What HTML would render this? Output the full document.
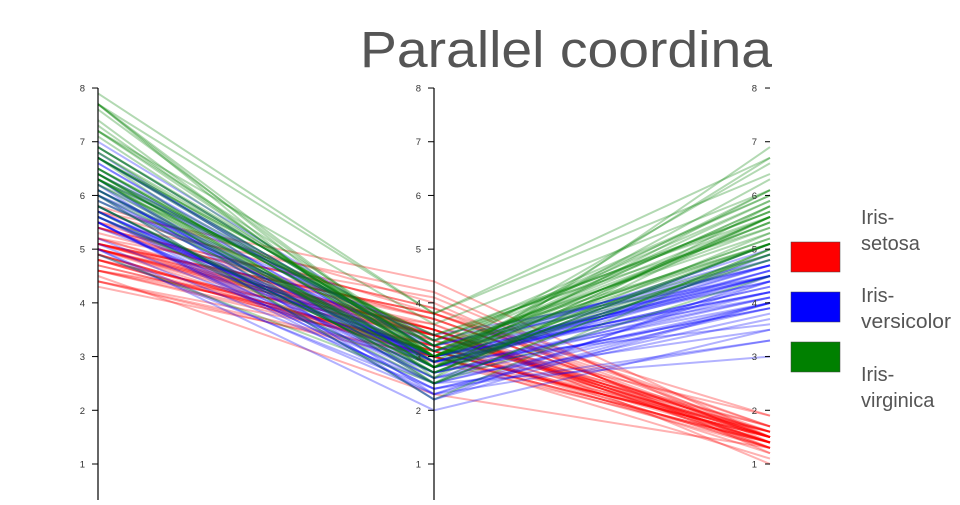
<!DOCTYPE html>
<html><head><style>
body{margin:0;background:#fff;width:960px;height:500px;overflow:hidden;font-family:"Liberation Sans",sans-serif}
</style></head><body>
<svg id="s" width="960" height="500" xmlns="http://www.w3.org/2000/svg">
<text x="360" y="67" font-size="51" fill="#555" textLength="412" lengthAdjust="spacingAndGlyphs" font-family="Liberation Sans, sans-serif">Parallel coordina</text>
<g id="lines"></g>
<g id="axes"></g>
<rect x="791" y="242" width="49" height="30" fill="#f00" stroke="#444" stroke-width="0.5"/>
<rect x="791" y="292" width="49" height="30" fill="#00f" stroke="#444" stroke-width="0.5"/>
<rect x="791" y="342" width="49" height="30" fill="#008000" stroke="#444" stroke-width="0.5"/>
<g font-size="20" fill="#555">
<text x="861" y="224">Iris-</text><text x="861" y="250">setosa</text>
<text x="861" y="302">Iris-</text><text x="861" y="328" textLength="90" lengthAdjust="spacingAndGlyphs">versicolor</text>
<text x="861" y="381">Iris-</text><text x="861" y="407">virginica</text>
</g>
</svg>
<script>
const S=`5.1,3.5,1.4 4.9,3.0,1.4 4.7,3.2,1.3 4.6,3.1,1.5 5.0,3.6,1.4 5.4,3.9,1.7 4.6,3.4,1.4 5.0,3.4,1.5 4.4,2.9,1.4 4.9,3.1,1.5 5.4,3.7,1.5 4.8,3.4,1.6 4.8,3.0,1.4 4.3,3.0,1.1 5.8,4.0,1.2 5.7,4.4,1.5 5.4,3.9,1.3 5.1,3.5,1.4 5.7,3.8,1.7 5.1,3.8,1.5 5.4,3.4,1.7 5.1,3.7,1.5 4.6,3.6,1.0 5.1,3.3,1.7 4.8,3.4,1.9 5.0,3.0,1.6 5.0,3.4,1.6 5.2,3.5,1.5 5.2,3.4,1.4 4.7,3.2,1.6 4.8,3.1,1.6 5.4,3.4,1.5 5.2,4.1,1.5 5.5,4.2,1.4 4.9,3.1,1.5 5.0,3.2,1.2 5.5,3.5,1.3 4.9,3.1,1.5 4.4,3.0,1.3 5.1,3.4,1.5 5.0,3.5,1.3 4.5,2.3,1.3 4.4,3.2,1.3 5.0,3.5,1.6 5.1,3.8,1.9 4.8,3.0,1.4 5.1,3.8,1.6 4.6,3.2,1.4 5.3,3.7,1.5 5.0,3.3,1.4`;
const V=`7.0,3.2,4.7 6.4,3.2,4.5 6.9,3.1,4.9 5.5,2.3,4.0 6.5,2.8,4.6 5.7,2.8,4.5 6.3,3.3,4.7 4.9,2.4,3.3 6.6,2.9,4.6 5.2,2.7,3.9 5.0,2.0,3.5 5.9,3.0,4.2 6.0,2.2,4.0 6.1,2.9,4.7 5.6,2.9,3.6 6.7,3.1,4.4 5.6,3.0,4.5 5.8,2.7,4.1 6.2,2.2,4.5 5.6,2.5,3.9 5.9,3.2,4.8 6.1,2.8,4.0 6.3,2.5,4.9 6.1,2.8,4.7 6.4,2.9,4.3 6.6,3.0,4.4 6.8,2.8,4.8 6.7,3.0,5.0 6.0,2.9,4.5 5.7,2.6,3.5 5.5,2.4,3.8 5.5,2.4,3.7 5.8,2.7,3.9 6.0,2.7,5.1 5.4,3.0,4.5 6.0,3.4,4.5 6.7,3.1,4.7 6.3,2.3,4.4 5.6,3.0,4.1 5.5,2.5,4.0 5.5,2.6,4.4 6.1,3.0,4.6 5.8,2.6,4.0 5.0,2.3,3.3 5.6,2.7,4.2 5.7,3.0,4.2 5.7,2.9,4.2 6.2,2.9,4.3 5.1,2.5,3.0 5.7,2.8,4.1`;
const G=`6.3,3.3,6.0 5.8,2.7,5.1 7.1,3.0,5.9 6.3,2.9,5.6 6.5,3.0,5.8 7.6,3.0,6.6 4.9,2.5,4.5 7.3,2.9,6.3 6.7,2.5,5.8 7.2,3.6,6.1 6.5,3.2,5.1 6.4,2.7,5.3 6.8,3.0,5.5 5.7,2.5,5.0 5.8,2.8,5.1 6.4,3.2,5.3 6.5,3.0,5.5 7.7,3.8,6.7 7.7,2.6,6.9 6.0,2.2,5.0 6.9,3.2,5.7 5.6,2.8,4.9 7.7,2.8,6.7 6.3,2.7,4.9 6.7,3.3,5.7 7.2,3.2,6.0 6.2,2.8,4.8 6.1,3.0,4.9 6.4,2.8,5.6 7.2,3.0,5.8 7.4,2.8,6.1 7.9,3.8,6.4 6.4,2.8,5.6 6.3,2.8,5.1 6.1,2.6,5.6 7.7,3.0,6.1 6.3,3.4,5.6 6.4,3.1,5.5 6.0,3.0,4.8 6.9,3.1,5.4 6.7,3.1,5.6 6.9,3.1,5.1 5.8,2.7,5.1 6.8,3.2,5.9 6.7,3.3,5.7 6.7,3.0,5.2 6.3,2.5,5.0 6.5,3.0,5.2 6.2,3.4,5.4 5.9,3.0,5.1`;
const X=[98,434,770],y=v=>517.7-v*53.71;
let h='';
[[S,'#f00'],[V,'#00f'],[G,'#008000']].forEach(([d,c])=>{d.trim().split(/\s+/).forEach(r=>{const v=r.split(',').map(Number);
h+=`<polyline points="${v.map((a,i)=>X[i]+','+y(a).toFixed(1)).join(' ')}" fill="none" stroke="${c}" stroke-opacity="0.3" stroke-width="2"/>`;});});
document.getElementById('lines').innerHTML=h;
let a='';
[98,434].forEach(x=>{a+=`<line x1="${x}" y1="88" x2="${x}" y2="500" stroke="#000" stroke-width="1.2"/>`;});
X.forEach((x,i)=>{for(let k=1;k<=8;k++){const yy=y(k);
if(i<2){a+=`<line x1="${x-6}" y1="${yy}" x2="${x}" y2="${yy}" stroke="#000"/>`;}
else{a+=`<line x1="${x-5}" y1="${yy}" x2="${x}" y2="${yy}" stroke="#000"/>`;}
a+=`<text x="${x-13}" y="${yy+3.5}" font-size="9.5" text-anchor="end" fill="#333">${k}</text>`;}});
document.getElementById('axes').innerHTML=a;
</script>
</body></html>
